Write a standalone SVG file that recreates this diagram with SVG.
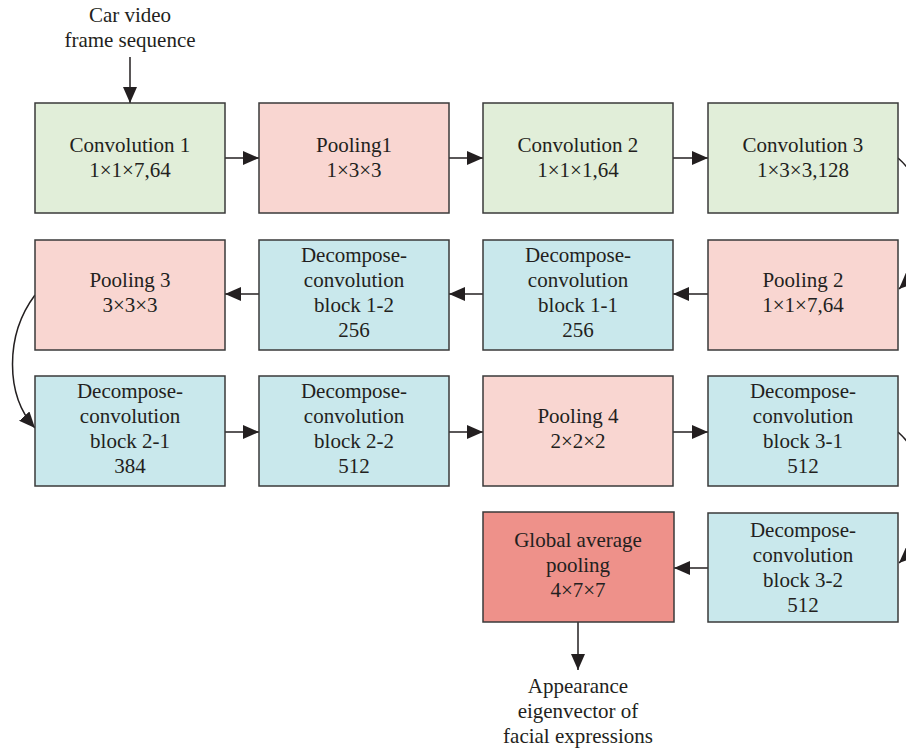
<svg xmlns="http://www.w3.org/2000/svg" width="906" height="752" viewBox="0 0 906 752">
  <style>
    .box { stroke: #3a3a3a; stroke-width: 1.5; }
    .conv { fill: #e1eed9; }
    .pool { fill: #f9d6d1; }
    .dec { fill: #c9e8ec; }
    .gap { fill: #ee918a; }
    text { font-family: "Liberation Serif", "Times New Roman", serif; font-size: 21px; fill: #231f20; text-anchor: middle; }
    .edge { stroke: #231f20; stroke-width: 1.5; fill: none; marker-end: url(#arrow); }
  </style>
  <defs>
    <marker id="arrow" markerUnits="userSpaceOnUse" markerWidth="16" markerHeight="14" refX="16" refY="7" orient="auto">
      <path d="M0,0 L16,7 L0,14 Z" fill="#231f20"/>
    </marker>
  </defs>

  <rect width="906" height="752" fill="#ffffff"/>

  <!-- connectors -->
  <g id="connectors">
    <line class="edge" x1="130" y1="57" x2="130" y2="103"/>
    <line class="edge" x1="225" y1="158" x2="259" y2="158"/>
    <line class="edge" x1="449" y1="158" x2="483" y2="158"/>
    <line class="edge" x1="673" y1="158" x2="708" y2="158"/>
    <path class="edge" d="M898,158 C935,190 935,255 899,289"/>
    <line class="edge" x1="708" y1="294" x2="673" y2="294"/>
    <line class="edge" x1="483" y1="294" x2="449" y2="294"/>
    <line class="edge" x1="259" y1="294" x2="225" y2="294"/>
    <path class="edge" d="M35,295 C5,335 5,395 35,428"/>
    <line class="edge" x1="225" y1="432" x2="259" y2="432"/>
    <line class="edge" x1="449" y1="432" x2="483" y2="432"/>
    <line class="edge" x1="673" y1="432" x2="708" y2="432"/>
    <path class="edge" d="M898,432 C935,465 935,530 899,563"/>
    <line class="edge" x1="708" y1="568" x2="674" y2="568"/>
    <line class="edge" x1="578" y1="622" x2="578" y2="670"/>
  </g>

  <!-- input / output labels -->
  <g id="input-label">
    <text x="130" y="22">Car video</text>
    <text x="130" y="47">frame sequence</text>
  </g>
  <g id="output-label">
    <text x="578" y="693">Appearance</text>
    <text x="578" y="718">eigenvector of</text>
    <text x="578" y="743">facial expressions</text>
  </g>

  <!-- row 1 -->
  <g id="conv1">
    <rect class="box conv" x="35" y="103" width="190" height="110"/>
    <text x="130" y="152">Convolution 1</text>
    <text x="130" y="177">1×1×7,64</text>
  </g>
  <g id="pool1">
    <rect class="box pool" x="259" y="103" width="190" height="110"/>
    <text x="354" y="152">Pooling1</text>
    <text x="354" y="177">1×3×3</text>
  </g>
  <g id="conv2">
    <rect class="box conv" x="483" y="103" width="190" height="110"/>
    <text x="578" y="152">Convolution 2</text>
    <text x="578" y="177">1×1×1,64</text>
  </g>
  <g id="conv3">
    <rect class="box conv" x="708" y="103" width="190" height="110"/>
    <text x="803" y="152">Convolution 3</text>
    <text x="803" y="177">1×3×3,128</text>
  </g>

  <!-- row 2 -->
  <g id="pool2">
    <rect class="box pool" x="708" y="240" width="190" height="110"/>
    <text x="803" y="287">Pooling 2</text>
    <text x="803" y="312">1×1×7,64</text>
  </g>
  <g id="dcb11">
    <rect class="box dec" x="483" y="240" width="190" height="110"/>
    <text x="578" y="262">Decompose-</text>
    <text x="578" y="287">convolution</text>
    <text x="578" y="312">block 1-1</text>
    <text x="578" y="337">256</text>
  </g>
  <g id="dcb12">
    <rect class="box dec" x="259" y="240" width="190" height="110"/>
    <text x="354" y="262">Decompose-</text>
    <text x="354" y="287">convolution</text>
    <text x="354" y="312">block 1-2</text>
    <text x="354" y="337">256</text>
  </g>
  <g id="pool3">
    <rect class="box pool" x="35" y="240" width="190" height="110"/>
    <text x="130" y="287">Pooling 3</text>
    <text x="130" y="312">3×3×3</text>
  </g>

  <!-- row 3 -->
  <g id="dcb21">
    <rect class="box dec" x="35" y="376" width="190" height="110"/>
    <text x="130" y="398">Decompose-</text>
    <text x="130" y="423">convolution</text>
    <text x="130" y="448">block 2-1</text>
    <text x="130" y="473">384</text>
  </g>
  <g id="dcb22">
    <rect class="box dec" x="259" y="376" width="190" height="110"/>
    <text x="354" y="398">Decompose-</text>
    <text x="354" y="423">convolution</text>
    <text x="354" y="448">block 2-2</text>
    <text x="354" y="473">512</text>
  </g>
  <g id="pool4">
    <rect class="box pool" x="483" y="376" width="190" height="110"/>
    <text x="578" y="423">Pooling 4</text>
    <text x="578" y="448">2×2×2</text>
  </g>
  <g id="dcb31">
    <rect class="box dec" x="708" y="376" width="190" height="110"/>
    <text x="803" y="398">Decompose-</text>
    <text x="803" y="423">convolution</text>
    <text x="803" y="448">block 3-1</text>
    <text x="803" y="473">512</text>
  </g>

  <!-- row 4 -->
  <g id="dcb32">
    <rect class="box dec" x="708" y="513" width="190" height="109"/>
    <text x="803" y="537">Decompose-</text>
    <text x="803" y="562">convolution</text>
    <text x="803" y="587">block 3-2</text>
    <text x="803" y="612">512</text>
  </g>
  <g id="gap">
    <rect class="box gap" x="483" y="512" width="191" height="110"/>
    <text x="578" y="547">Global average</text>
    <text x="578" y="572">pooling</text>
    <text x="578" y="597">4×7×7</text>
  </g>
</svg>
